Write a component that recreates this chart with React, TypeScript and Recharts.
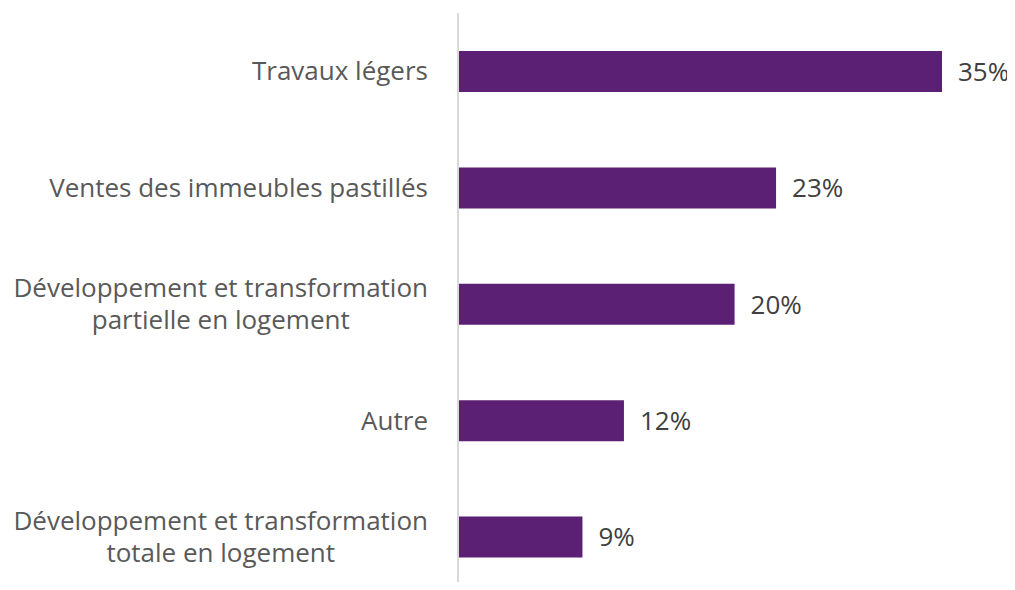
import { BarChart, Bar, XAxis, YAxis, LabelList } from 'recharts'

const categories = [
  'Travaux légers',
  'Ventes des immeubles pastillés',
  'Développement et transformation\npartielle en logement',
  'Autre',
  'Développement et transformation\ntotale en logement',
]
const shares = [35, 23, 20, 12, 9]

const data = categories.map((name, i) => ({ name, value: shares[i] }))

const FONT = '"Open Sans", sans-serif'
const FONT_SIZE = 26

let ctx: CanvasRenderingContext2D | null = null
function textWidth(s: string) {
  if (!ctx) ctx = document.createElement('canvas').getContext('2d')
  if (!ctx) return s.length * 12
  ctx.font = `${FONT_SIZE}px ${FONT}`
  return ctx.measureText(s).width
}

function CategoryTick({ x, y, payload }: any) {
  const lines: string[] = String(payload.value).split('\n')
  const w = Math.max(...lines.map(textWidth))
  const cx = x - w / 2
  const lh = 32
  const start = y - ((lines.length - 1) * lh) / 2
  return (
    <text x={cx} y={start} textAnchor="middle" fill="#595959" fontSize={FONT_SIZE} fontFamily={FONT}>
      {lines.map((l, i) => (
        <tspan key={i} x={cx} y={start + i * lh} dy="0.35em">
          {l}
        </tspan>
      ))}
    </text>
  )
}

export default function App() {
  return (
    <div style={{ margin: -8, background: '#fff', width: 1015, height: 590, overflow: 'hidden' }}>
      <BarChart
        width={1015}
        height={610}
        data={data}
        layout="vertical"
        margin={{ top: 13, right: 73, bottom: 15, left: 0 }}
      >
        <XAxis type="number" domain={[0, 35]} hide />
        <YAxis
          type="category"
          dataKey="name"
          width={458}
          axisLine={{ stroke: '#d9d9d9', strokeWidth: 2 }}
          tickLine={false}
          tickMargin={24}
          tick={<CategoryTick />}
        />
        <Bar dataKey="value" fill="#5b1f74" barSize={41} isAnimationActive={false}>
          <LabelList
            dataKey="value"
            position="right"
            offset={16}
            formatter={(v: any) => `${v}%`}
            fill="#404040"
            fontSize={FONT_SIZE}
            fontFamily={FONT}
          />
        </Bar>
      </BarChart>
    </div>
  )
}
